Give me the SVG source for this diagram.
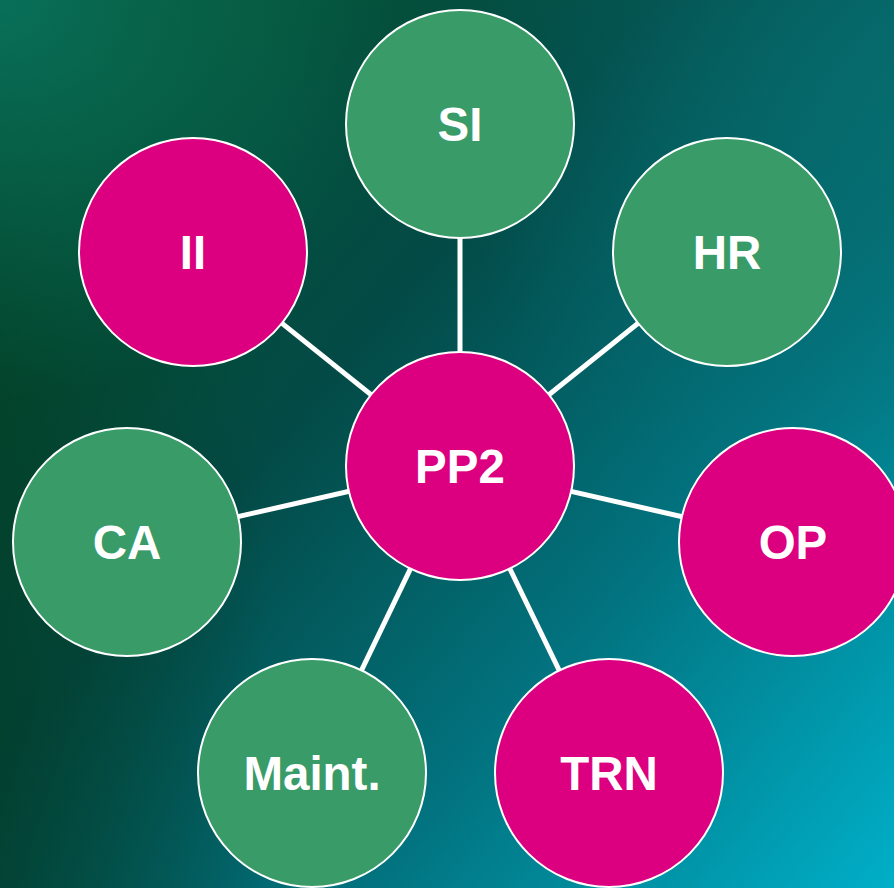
<svg xmlns="http://www.w3.org/2000/svg" width="894" height="888" viewBox="0 0 894 888">
<defs>
<linearGradient id="bg" x1="0" y1="0.15" x2="1" y2="1">
<stop offset="0" stop-color="#05542f"/>
<stop offset="0.35" stop-color="#034a46"/>
<stop offset="0.65" stop-color="#02727e"/>
<stop offset="1" stop-color="#00afc8"/>
</linearGradient>
<radialGradient id="tl" cx="0" cy="0" r="0.45">
<stop offset="0" stop-color="#0a7a66" stop-opacity="0.8"/>
<stop offset="1" stop-color="#0a7a66" stop-opacity="0"/>
</radialGradient>
<radialGradient id="tr" cx="1" cy="0.1" r="0.5">
<stop offset="0" stop-color="#086e6e" stop-opacity="0.7"/>
<stop offset="1" stop-color="#086e6e" stop-opacity="0"/>
</radialGradient>
<linearGradient id="ld" x1="0" y1="0" x2="1" y2="0">
<stop offset="0" stop-color="#023a22" stop-opacity="0.6"/>
<stop offset="0.3" stop-color="#023a22" stop-opacity="0"/>
</linearGradient>
</defs>
<style>
.g{fill:#389b68;stroke:#fff;stroke-width:2}
.p{fill:#dc0080;stroke:#fff;stroke-width:2}
.t{fill:#fff;font-family:"Liberation Sans",Arial,sans-serif;font-weight:bold;font-size:47.5px;text-anchor:middle}
.c line{stroke:#fff;stroke-width:5}
</style>
<rect width="894" height="888" fill="url(#bg)"/>
<rect width="894" height="888" fill="url(#ld)"/>
<rect width="894" height="888" fill="url(#tl)"/>
<rect width="894" height="888" fill="url(#tr)"/>
<g id="connectors" class="c">
<line x1="460" y1="466" x2="460" y2="124"/>
<line x1="460" y1="466" x2="193" y2="252"/>
<line x1="460" y1="466" x2="727" y2="252"/>
<line x1="460" y1="466" x2="127" y2="542"/>
<line x1="460" y1="466" x2="793" y2="542"/>
<line x1="460" y1="466" x2="312" y2="773"/>
<line x1="460" y1="466" x2="609" y2="773"/>
</g>
<g id="SI"><circle class="g" cx="460" cy="124" r="114"/><text class="t" x="460" y="141">SI</text></g>
<g id="II"><circle class="p" cx="193" cy="252" r="114"/><text class="t" x="193" y="269">II</text></g>
<g id="HR"><circle class="g" cx="727" cy="252" r="114"/><text class="t" x="727" y="269">HR</text></g>
<g id="CA"><circle class="g" cx="127" cy="542" r="114"/><text class="t" x="127" y="559">CA</text></g>
<g id="OP"><circle class="p" cx="793" cy="542" r="114"/><text class="t" x="793" y="559">OP</text></g>
<g id="Maint"><circle class="g" cx="312" cy="773" r="114"/><text class="t" x="312" y="790">Maint.</text></g>
<g id="TRN"><circle class="p" cx="609" cy="773" r="114"/><text class="t" x="609" y="790">TRN</text></g>
<g id="PP2"><circle class="p" cx="460" cy="466" r="114"/><text class="t" x="460" y="483">PP2</text></g>
</svg>
